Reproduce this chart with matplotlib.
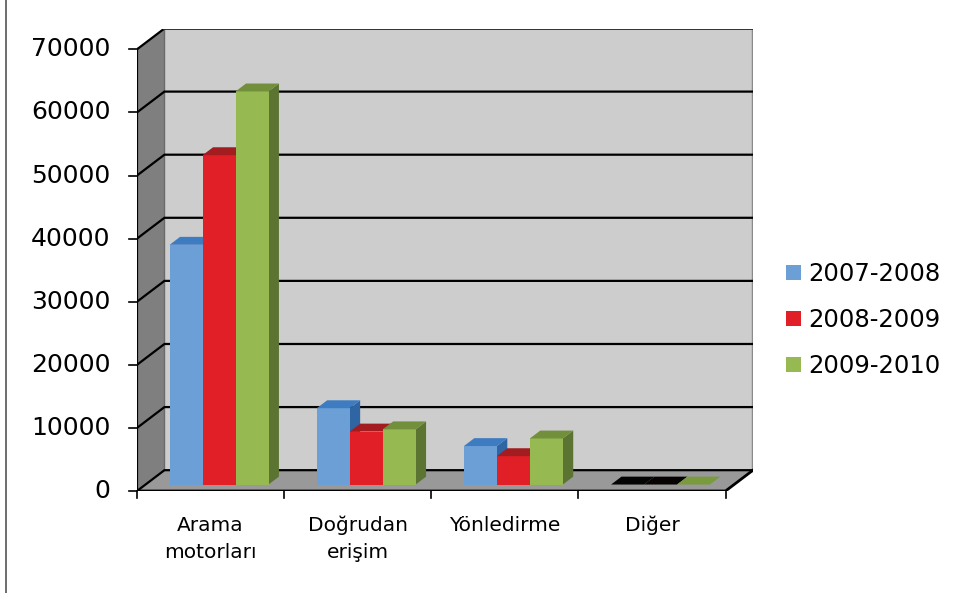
import matplotlib
matplotlib.use('Agg')
from matplotlib import pyplot as plt
from matplotlib.patches import Polygon
from matplotlib.lines import Line2D

categories = ['Arama\nmotorları', 'Doğrudan\nerişim', 'Yönledirme', 'Diğer']
series = ['2007-2008', '2008-2009', '2009-2010']
v0708 = [38000, 12100, 6100, 0]
v0809 = [52200, 8400, 4500, 0]
v0910 = [62300, 8750, 7300, 0]
yticks = [0, 10000, 20000, 30000, 40000, 50000, 60000, 70000]

front = ['#6C9FD6', '#E01F26', '#97B951']
top = ['#3E7CC2', '#A31C20', '#728F3B']
side = ['#2F65A2', '#A01A1F', '#5C7432']
flat = ['#050505', '#080303', '#7A9A3E']     # colour of zero-height bar tops

ymax = 70000
dx = 0.1864        # depth offset of the back wall, category units
dy = 3300          # depth offset of the back wall, value units
f0, f1 = 0.31, 0.69  # bar depth (fraction of wall depth)
bw = 0.224
ncat = len(categories)

fig = plt.figure(figsize=(9.56, 5.93), dpi=100)
ax = fig.add_axes([137/956, 102/593, 616/956, 462.5/593])
ax.set_xlim(0, ncat + dx)
ax.set_ylim(0, ymax + dy)
ax.axis('off')

# walls and floor
ax.add_patch(Polygon([(0, 0), (ncat, 0), (ncat + dx, dy), (dx, dy)],
                     closed=True, fc='#999999', ec='none', zorder=1))
ax.add_patch(Polygon([(0, 0), (dx, dy), (dx, ymax + dy), (0, ymax)],
                     closed=True, fc='#7F7F7F', ec='none', zorder=1))
ax.add_patch(Polygon([(dx, dy), (ncat + dx, dy), (ncat + dx, ymax + dy), (dx, ymax + dy)],
                     closed=True, fc='#CDCDCD', ec='none', zorder=1))
ax.plot([ncat + dx, ncat + dx], [dy, ymax + dy], color='#8A8A8A', lw=2.5, zorder=2)
ax.plot([dx, dx], [dy, ymax + dy], color='#6A6A6A', lw=1, zorder=2)

# gridlines on back wall plus the diagonals on the side wall
for t in yticks:
    ax.plot([0, dx, ncat + dx], [t, t + dy, t + dy], color='black', lw=1.6,
            zorder=2, solid_joinstyle='miter')
ax.plot([dx, ncat + dx], [ymax + dy, ymax + dy], color='#333333', lw=2, zorder=2)

# floor edges and axes
ax.plot([0, ncat, ncat + dx], [0, 0, dy], color='black', lw=2, zorder=6,
        solid_joinstyle='miter')
ax.plot([0, 0], [0, ymax], color='black', lw=1.6, zorder=6)
for t in yticks:
    ax.plot([-0.054, 0], [t, t], color='black', lw=1.2, zorder=6, clip_on=False)
    ax.text(-0.18, t, str(t), ha='right', va='center', fontsize=18, clip_on=False)
for i in range(ncat + 1):
    ax.plot([i, i], [0, -1150], color='black', lw=1.2, zorder=6, clip_on=False)
for i, c in enumerate(categories):
    ax.text(i + 0.5, -3900, c, ha='center', va='top', fontsize=14.5,
            linespacing=1.55, clip_on=False)

# bars: front face through ax.bar, top and side faces as polygons
bdx = (f1 - f0) * dx
bdy = (f1 - f0) * dy
handles = []
for i in range(ncat):
    for j, vals in enumerate([v0708, v0809, v0910]):
        h = vals[i]
        x0 = i + 0.5 + (j - 1.5) * bw + f0 * dx
        y0 = f0 * dy
        x1 = x0 + bw
        if h > 0:
            ax.add_patch(Polygon([(x1, y0), (x1 + bdx, y0 + bdy), (x1 + bdx, y0 + h + bdy), (x1, y0 + h)],
                                 closed=True, fc=side[j], ec='none', zorder=3))
            b = ax.bar(x0, h, bw, bottom=y0, align='edge', color=front[j], zorder=3,
                       label=series[j] if i == 0 else None)
            tc = top[j]
        else:
            tc = flat[j]
        ax.add_patch(Polygon([(x0, y0 + h), (x1, y0 + h), (x1 + bdx, y0 + h + bdy), (x0 + bdx, y0 + h + bdy)],
                             closed=True, fc=tc, ec='none', zorder=3))
        if i == 0:
            handles.append(b)

fig.legend(handles=handles, labels=series, loc='center left',
           bbox_to_anchor=(786/956, 1 - 320/593), frameon=False, fontsize=17.5,
           handlelength=0.6, handleheight=0.6, handletextpad=0.3,
           labelspacing=0.9, borderpad=0, borderaxespad=0)

fig.add_artist(Line2D([6/956, 6/956], [0, 1], color='#555555', lw=1.2))

fig.savefig('out.png')
